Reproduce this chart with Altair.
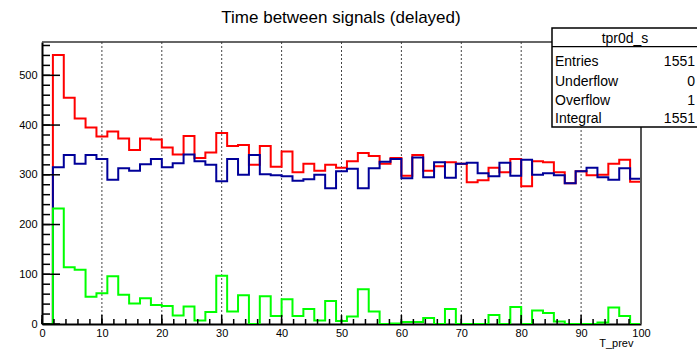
import altair as alt
import pandas as pd

# Histogram binning: 55 bins over [0, 100]
N_BINS = 55
X_MIN, X_MAX = 0.0, 100.0
Y_MAX = 567

# Bin contents (one value per bin, left to right)
red = [0, 541, 455, 413, 395, 377, 387, 373, 350, 373, 371, 355, 341, 378, 334,
       345, 384, 358, 360, 320, 358, 316, 347, 305, 322, 308, 320, 314, 327, 344,
       338, 322, 334, 298, 340, 308, 317, 325, 322, 285, 289, 314, 305, 332, 277,
       327, 325, 305, 283, 307, 299, 300, 322, 330, 286]
blue = [0, 315, 340, 322, 340, 332, 290, 313, 308, 321, 332, 315, 323, 341, 327,
        320, 287, 332, 300, 340, 301, 299, 297, 288, 291, 300, 273, 307, 312, 273,
        313, 326, 332, 293, 335, 295, 325, 294, 322, 324, 303, 297, 324, 298, 330,
        300, 303, 299, 283, 307, 314, 295, 290, 313, 292]
green = [0, 232, 114, 109, 55, 62, 96, 59, 41, 52, 38, 36, 17, 35, 7,
         24, 97, 25, 58, 0, 56, 16, 50, 16, 30, 7, 46, 6, 15, 70,
         25, 0, 1, 4, 4, 12, 0, 30, 0, 0, 0, 18, 0, 34, 0,
         27, 22, 5, 0, 0, 0, 3, 33, 16, 0]

title_text = "Time between signals (delayed)"
x_title = "T_prev"
stats_name = "tpr0d_s"
stats_labels = ["Entries", "Underflow", "Overflow", "Integral"]
stats_values = ["1551", "0", "1", "1551"]

x_major = [10, 20, 30, 40, 50, 60, 70, 80, 90]
x_labels = [0, 10, 20, 30, 40, 50, 60, 70, 80, 90, 100]
x_minor = list(range(0, 101, 2))
y_major = [0, 100, 200, 300, 400, 500]
y_minor = list(range(0, 561, 20))

W, H = 599, 282
FONT = "Liberation Sans"

bw = (X_MAX - X_MIN) / N_BINS
edges = [X_MIN + i * bw for i in range(N_BINS + 1)]


def step_frame(vals):
    return pd.DataFrame({"x": edges, "y": list(vals) + [vals[-1]],
                         "i": list(range(N_BINS + 1))})


xs = alt.Scale(domain=[X_MIN, X_MAX], nice=False, zero=False)
ys = alt.Scale(domain=[0, Y_MAX], nice=False)

x_axis = alt.Axis(values=x_labels, ticks=False, grid=False, domain=True,
                  domainColor="#000000", domainWidth=2, labelFont=FONT,
                  labelFontSize=11, labelColor="#000000", labelPadding=3,
                  title=x_title, titleFont=FONT, titleFontSize=11,
                  titleFontWeight="normal", titleColor="#000000",
                  titleX=591, titleY=19, titleAlign="right",
                  titleBaseline="middle", labelFlush=False)
y_axis = alt.Axis(values=y_major, ticks=False, grid=False, domain=True,
                  domainColor="#000000", domainWidth=2, labelFont=FONT,
                  labelFontSize=11, labelColor="#000000", labelPadding=5,
                  title=None)

X = alt.X("x:Q", scale=xs, axis=x_axis)
Y = alt.Y("y:Q", scale=ys, axis=y_axis)


def hist(vals, color):
    return alt.Chart(step_frame(vals)).mark_line(
        interpolate="step-after", color=color, strokeWidth=2, clip=True
    ).encode(x=X, y=Y, order="i:Q")


# dotted vertical grid
grid = alt.Chart(pd.DataFrame({"x": x_major})).mark_rule(
    color="#444444", strokeWidth=1, strokeDash=[2, 2]
).encode(x=X, y=alt.value(0), y2=alt.value(H))

# inward ticks
xt_minor = alt.Chart(pd.DataFrame({"x": x_minor})).mark_rule(
    color="#000000", strokeWidth=1.5
).encode(x=X, y=alt.value(H), y2=alt.value(H - 5))
xt_major = alt.Chart(pd.DataFrame({"x": x_labels})).mark_rule(
    color="#000000", strokeWidth=1.5
).encode(x=X, y=alt.value(H), y2=alt.value(H - 9))
yt_minor = alt.Chart(pd.DataFrame({"y": y_minor})).mark_rule(
    color="#000000", strokeWidth=1.5
).encode(y=Y, x=alt.value(0), x2=alt.value(8))
yt_major = alt.Chart(pd.DataFrame({"y": y_major})).mark_rule(
    color="#000000", strokeWidth=1.5
).encode(y=Y, x=alt.value(0), x2=alt.value(18))

# frame: top and right edges
one = pd.DataFrame({"k": [0]})
top_edge = alt.Chart(one).mark_rule(color="#333333", strokeWidth=1.5).encode(
    x=alt.value(0), x2=alt.value(W), y=alt.value(0))
right_edge = alt.Chart(one).mark_rule(color="#555555", strokeWidth=2).encode(
    x=alt.value(W), y=alt.value(0), y2=alt.value(H))

# title
title = alt.Chart(one).mark_text(
    font=FONT, fontSize=17, color="#000000", align="center",
    baseline="alphabetic"
).encode(x=alt.value(299), y=alt.value(-19), text=alt.value(title_text))

# statistics box
BX0, BX1, BY0, BY1 = 510, 656, -14, 85
box = alt.Chart(one).mark_rect(
    fill="#ffffff", stroke="#000000", strokeWidth=1.5
).encode(x=alt.value(BX0), x2=alt.value(BX1), y=alt.value(BY0), y2=alt.value(BY1))
box_sep = alt.Chart(one).mark_rule(color="#000000", strokeWidth=1.2).encode(
    x=alt.value(BX0), x2=alt.value(BX1), y=alt.value(4.7))
box_title = alt.Chart(one).mark_text(
    font=FONT, fontSize=14, color="#000000", align="center",
    baseline="alphabetic"
).encode(x=alt.value(583), y=alt.value(1), text=alt.value(stats_name))

stats_layers = []
row_y = [24, 43.5, 62.5, 80.5]
for lab, val, yy in zip(stats_labels, stats_values, row_y):
    stats_layers.append(alt.Chart(one).mark_text(
        font=FONT, fontSize=14, color="#000000", align="left",
        baseline="alphabetic"
    ).encode(x=alt.value(513), y=alt.value(yy), text=alt.value(lab)))
    stats_layers.append(alt.Chart(one).mark_text(
        font=FONT, fontSize=14, color="#000000", align="right",
        baseline="alphabetic"
    ).encode(x=alt.value(653), y=alt.value(yy), text=alt.value(val)))

chart = alt.layer(
    grid,
    hist(red, "#ff0000"),
    hist(blue, "#000099"),
    hist(green, "#00ff00"),
    xt_minor, xt_major, yt_minor, yt_major,
    top_edge, right_edge,
    title, box, box_sep, box_title, *stats_layers
).properties(
    width=W, height=H,
    autosize=alt.AutoSizeParams(type="none"),
    padding={"left": 42, "top": 42, "right": 56, "bottom": 28},
    background="#ffffff"
).configure_view(stroke=None)

chart.save("out.html", embed_options={"renderer": "svg", "actions": False})
